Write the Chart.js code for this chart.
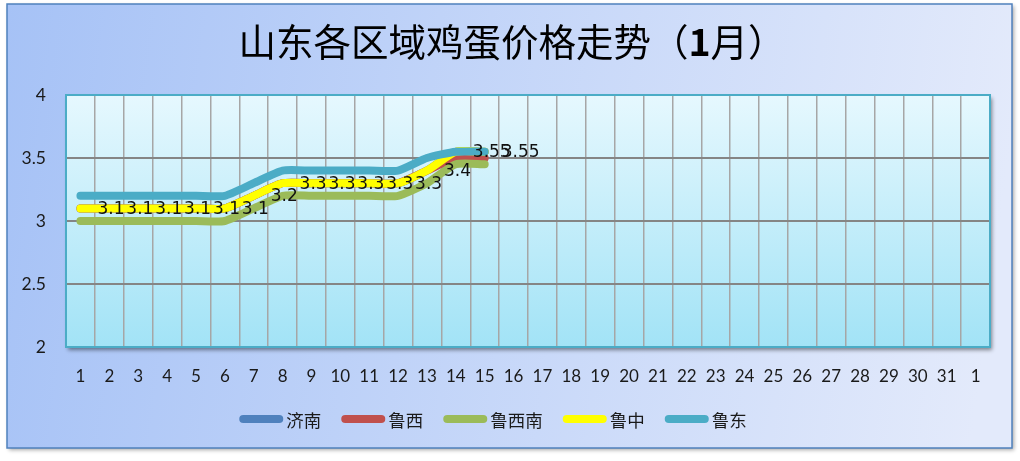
<!DOCTYPE html>
<html><head><meta charset="utf-8">
<script src="https://cdn.jsdelivr.net/npm/chart.js@4.4.1/dist/chart.umd.min.js"></script>
<style>html,body{margin:0;padding:0;background:#fff;}canvas{display:block}</style>
</head><body>
<canvas id="c" width="1020" height="461" style="width:1020px;height:461px"></canvas>
<script>
const categories = ['1','2','3','4','5','6','7','8','9','10','11','12','13','14','15','16','17','18','19','20','21','22','23','24','25','26','27','28','29','30','31','1'];
const seriesNames = ['济南','鲁西','鲁西南','鲁中','鲁东'];
const seriesColors = ['#4F81BD','#C0504D','#9BBB59','#FFFF00','#4BACC6'];
const jinan   = [3.1,3.1,3.1,3.1,3.1,3.1,3.2,3.3,3.3,3.3,3.3,3.3,3.4,3.55,3.55];
const luxi    = [3.1,3.1,3.1,3.1,3.1,3.1,3.2,3.3,3.3,3.3,3.3,3.3,3.4,3.5,3.5];
const luxinan = [3.0,3.0,3.0,3.0,3.0,3.0,3.1,3.2,3.2,3.2,3.2,3.2,3.3,3.45,3.45];
const luzhong = [3.1,3.1,3.1,3.1,3.1,3.1,3.2,3.3,3.3,3.3,3.3,3.3,3.4,3.55,3.55];
const ludong  = [3.2,3.2,3.2,3.2,3.2,3.2,3.3,3.4,3.4,3.4,3.4,3.4,3.5,3.55,3.55];
const seriesValues = [jinan, luxi, luxinan, luzhong, ludong];
const labelledSeries = 3;
const titleParts = [['山东各区域鸡蛋价格走势（', false], ['1', true], ['月）', false]];
const yMin = 2, yMax = 4, yStep = 0.5;

const CJK = '"Noto Sans CJK SC", sans-serif';
const NUM = 'Lato, "Open Sans", sans-serif';
const LBL = '"DejaVu Sans", sans-serif';

const bgPlugin = {
  id: 'bg',
  beforeDraw(chart) {
    const ctx = chart.ctx, a = chart.chartArea;
    ctx.save();
    ctx.fillStyle = '#ffffff';
    ctx.fillRect(0, 0, chart.width, chart.height);
    const ox = 7, oy = 4, ow = 1005, oh = 444;
    ctx.save();
    ctx.shadowColor = 'rgba(0,0,0,0.35)';
    ctx.shadowBlur = 4; ctx.shadowOffsetX = 2; ctx.shadowOffsetY = 2;
    const g = ctx.createLinearGradient(ox, oy, ox + ow, oy + oh * 0.3);
    g.addColorStop(0, '#A6C2F6');
    g.addColorStop(1, '#E3EAFB');
    ctx.fillStyle = g;
    ctx.fillRect(ox, oy, ow, oh);
    ctx.restore();
    ctx.strokeStyle = '#4F81BD'; ctx.lineWidth = 1.5;
    ctx.strokeRect(ox, oy, ow, oh);
    ctx.save();
    ctx.shadowColor = 'rgba(0,0,0,0.45)';
    ctx.shadowBlur = 4; ctx.shadowOffsetX = 2; ctx.shadowOffsetY = 3;
    const pg = ctx.createLinearGradient(0, a.top, 0, a.bottom);
    pg.addColorStop(0, '#E6F8FE');
    pg.addColorStop(1, '#A2E3F6');
    ctx.fillStyle = pg;
    ctx.fillRect(a.left, a.top, a.right - a.left, a.bottom - a.top);
    ctx.restore();
    ctx.restore();
  },
  beforeDatasetsDraw(chart) {
    const ctx = chart.ctx, a = chart.chartArea;
    ctx.save();
    ctx.strokeStyle = '#4BACC6'; ctx.lineWidth = 2;
    ctx.strokeRect(a.left, a.top, a.right - a.left, a.bottom - a.top);
    ctx.restore();
  },
  afterDatasetsDraw(chart) {
    const ctx = chart.ctx;
    const meta = chart.getDatasetMeta(labelledSeries);
    const vals = chart.data.datasets[labelledSeries].data;
    ctx.save();
    ctx.font = '17px ' + LBL;
    ctx.fillStyle = '#111';
    ctx.textAlign = 'left';
    ctx.textBaseline = 'middle';
    meta.data.forEach((pt, i) => {
      if (vals[i] == null) return;
      ctx.fillText(String(vals[i]), pt.x + 17, pt.y + 1);
    });
    ctx.restore();
  },
  afterDraw(chart) {
    const ctx = chart.ctx;
    ctx.save();
    const fN = '37.5px ' + CJK, fB = 'bold 37.5px ' + CJK;
    let tw = 0;
    titleParts.forEach(([t, b]) => { ctx.font = b ? fB : fN; tw += ctx.measureText(t).width; });
    let x = 512 - tw / 2;
    ctx.fillStyle = '#000';
    ctx.textBaseline = 'alphabetic';
    ctx.textAlign = 'left';
    titleParts.forEach(([t, b]) => { ctx.font = b ? fB : fN; ctx.fillText(t, x, 56); x += ctx.measureText(t).width; });
    ctx.font = '17.5px ' + CJK;
    const sw = 44, gap = 3, itemGap = 20, ly = 419;
    const ds = chart.data.datasets;
    let total = 0;
    ds.forEach((d, i) => { total += sw + gap + ctx.measureText(d.label).width + (i < ds.length - 1 ? itemGap : 0); });
    let lx = 493 - total / 2;
    ds.forEach((d) => {
      ctx.strokeStyle = d.borderColor; ctx.lineWidth = 8; ctx.lineCap = 'round';
      ctx.beginPath(); ctx.moveTo(lx + 4, ly); ctx.lineTo(lx + sw - 4, ly); ctx.stroke();
      ctx.fillStyle = '#1a1a1a'; ctx.textBaseline = 'middle';
      ctx.fillText(d.label, lx + sw + gap, ly + 1);
      lx += sw + gap + ctx.measureText(d.label).width + itemGap;
    });
    ctx.restore();
  }
};

new Chart(document.getElementById('c'), {
  type: 'line',
  data: {
    labels: categories,
    datasets: seriesNames.map((n, i) => ({
      label: n,
      data: seriesValues[i],
      order: seriesNames.length - i,
      borderColor: seriesColors[i],
      backgroundColor: seriesColors[i],
      borderWidth: 8,
      borderCapStyle: 'round',
      borderJoinStyle: 'round',
      pointRadius: 0,
      pointHoverRadius: 0,
      tension: 0.2,
      fill: false
    }))
  },
  options: {
    responsive: false,
    animation: false,
    devicePixelRatio: 1,
    layout: { padding: { left: 0, right: 30, top: 95, bottom: 0 } },
    plugins: { legend: { display: false }, title: { display: false }, tooltip: { enabled: false } },
    scales: {
      x: {
        offset: true,
        grid: { offset: true, color: '#A6A6A6', lineWidth: 1.5, drawTicks: false },
        border: { display: false },
        ticks: { autoSkip: false, maxRotation: 0, padding: 19, color: '#1a1a1a', font: { family: NUM, size: 17 } },
        afterFit(s) { s.height = 114; }
      },
      y: {
        min: yMin, max: yMax,
        grid: { color: '#858585', lineWidth: 2, drawTicks: false },
        border: { display: false },
        ticks: { stepSize: yStep, padding: 20, color: '#1a1a1a', font: { family: NUM, size: 17.5 }, callback: (v) => String(v) },
        afterFit(s) { s.width = 66; }
      }
    }
  },
  plugins: [bgPlugin]
});
</script>
</body></html>
